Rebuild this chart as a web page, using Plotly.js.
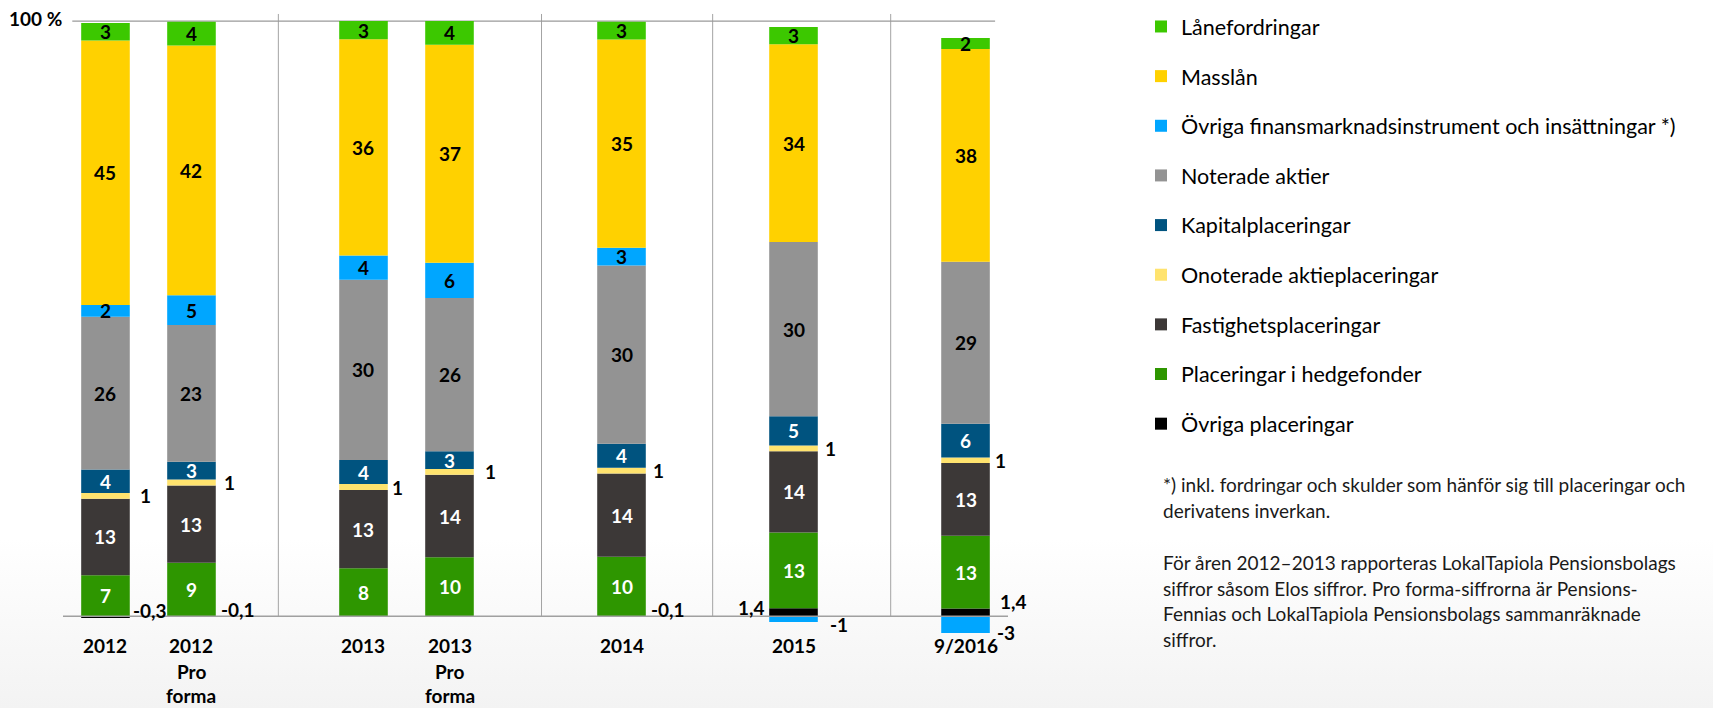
<!DOCTYPE html>
<html><head><meta charset="utf-8">
<script src="https://cdn.plot.ly/plotly-3.0.1.min.js"></script>
<style>
html,body{margin:0;padding:0;width:1713px;height:708px;overflow:hidden;
background:linear-gradient(to bottom,#ffffff 0%,#ffffff 76%,#f3f3f3 100%);}
#chart{width:1713px;height:708px;}
</style></head><body><div id="chart"></div>
<script>
// ---------- data (values as labelled in the chart, %) ----------
const categories = ['2012', '2012 Pro forma', '2013', '2013 Pro forma', '2014', '2015', '9/2016'];
const ovrigaPlaceringar        = [-0.3, -0.1, 0, 0, -0.1, 1.4, 1.4];
const hedgefonder              = [7, 9, 8, 10, 10, 13, 13];
const fastighetsplaceringar    = [13, 13, 13, 14, 14, 14, 13];
const onoteradeAktieplac       = [1, 1, 1, 1, 1, 1, 1];
const kapitalplaceringar       = [4, 3, 4, 3, 4, 5, 6];
const noteradeAktier           = [26, 23, 30, 26, 30, 30, 29];
const ovrigaFinansinstrument   = [2, 5, 4, 6, 3, -1, -3];
const masslan                  = [45, 42, 36, 37, 35, 34, 38];
const lanefordringar           = [3, 4, 3, 4, 3, 3, 2];
const yTickLabel = '100 %';
const footnotes = [
  '*) inkl. fordringar och skulder som hänför sig till placeringar och',
  'derivatens inverkan.',
  'För åren 2012–2013 rapporteras LokalTapiola Pensionsbolags',
  'siffror såsom Elos siffror. Pro forma-siffrorna är Pensions-',
  'Fennias och LokalTapiola Pensionsbolags sammanräknade',
  'siffror.'
];

// ---------- layout constants ----------
const W = 1713, H = 708;
const M = {l: 63, r: 705, t: 11, b: 56};
const catPos = [0, 1, 3, 4, 6, 8, 10];
const barWidth = 0.565;
const sepPos = [2.01, 5.07, 7.06, 9.13];
const xRange = [-0.494, 10.494];
const yRange = [-6, 101.7];
const FONT = 'Lato, "Liberation Sans", Arial, sans-serif';
const plotW = W - M.l - M.r, plotH = H - M.t - M.b;
const xPaper = px => (px - M.l) / plotW;
const yPaper = py => (H - M.b - py) / plotH;

// series, bottom of stack first; rank = order in legend (top first)
const series = [
  {name: 'Övriga placeringar', values: ovrigaPlaceringar, color: '#000000', txt: '#000', mode: 'black', rank: 9},
  {name: 'Placeringar i hedgefonder', values: hedgefonder, color: '#2E9600', txt: '#ffffff', mode: 'in', rank: 8},
  {name: 'Fastighetsplaceringar', values: fastighetsplaceringar, color: '#3C3837', txt: '#ffffff', mode: 'in', rank: 7},
  {name: 'Onoterade aktieplaceringar', values: onoteradeAktieplac, color: '#FFE36E', txt: '#000', mode: 'side', rank: 6},
  {name: 'Kapitalplaceringar', values: kapitalplaceringar, color: '#00537F', txt: '#ffffff', mode: 'in', rank: 5},
  {name: 'Noterade aktier', values: noteradeAktier, color: '#939393', txt: '#000', mode: 'in', rank: 4},
  {name: 'Övriga finansmarknadsinstrument och insättningar *)', values: ovrigaFinansinstrument, color: '#00A6FF', txt: '#000', mode: 'in', rank: 3},
  {name: 'Masslån', values: masslan, color: '#FFD100', txt: '#000', mode: 'in', rank: 2},
  {name: 'Lånefordringar', values: lanefordringar, color: '#3CC800', txt: '#000', mode: 'in', rank: 1}
];

// label placement styles for the labels drawn beside the bars
const sideDx = [10, 8, 4, 11, 7, 7, 5];
const blackLabelStyle = [
  {side: 'right', dx: 2, dy: 6.5}, {side: 'right', dx: 4, dy: 7}, null, null,
  {side: 'right', dx: 4, dy: 7}, {side: 'left', dx: 3, dy: 4.5}, {side: 'right', dx: 9, dy: 10.5}
];
const negLabelStyle = [null, null, null, null, null, {dx: 12, dy: -5}, {dx: 7, dy: -7.6}];

// 100 % stacked: each column normalised by the sum of absolute values
const absTotal = categories.map((_, i) => series.reduce((s, t) => s + Math.abs(t.values[i]), 0));
const shares = series.map(s => s.values.map((v, i) => v / absTotal[i] * 100));

const fmt = v => String(v).replace('.', ',');

const traces = series.map((s, k) => ({
  type: 'bar', name: s.name, x: catPos, y: shares[k], width: barWidth,
  marker: {color: s.color, line: {width: 0}},
  legendgroup: 'g' + k, legendrank: s.rank, cliponaxis: false, hoverinfo: 'skip'
}));

const annotations = [];
const posBase = categories.map(() => 0), negBase = categories.map(() => 0);
const labFont = c => ({family: FONT, size: 19, color: c, weight: 700});
series.forEach((s, k) => {
  shares[k].forEach((h, i) => {
    let center;
    if (h >= 0) { center = posBase[i] + h / 2; posBase[i] += h; }
    else { center = negBase[i] + h / 2; negBase[i] += h; }
    const v = s.values[i];
    if (v === 0) return;
    const base = {text: '<b>' + fmt(v) + '</b>', showarrow: false, xref: 'x', yref: 'y', y: center, yanchor: 'middle', borderpad: 0};
    if (s.mode === 'black') {
      const st = blackLabelStyle[i];
      if (!st) return;
      if (st.side === 'right') annotations.push(Object.assign(base, {x: catPos[i] + barWidth / 2, xanchor: 'left', xshift: st.dx, yshift: st.dy, font: labFont('#000')}));
      else annotations.push(Object.assign(base, {x: catPos[i] - barWidth / 2, xanchor: 'right', xshift: -st.dx, yshift: st.dy, font: labFont('#000')}));
    } else if (s.mode === 'side') {
      annotations.push(Object.assign(base, {x: catPos[i] + barWidth / 2, xanchor: 'left', xshift: sideDx[i] - 1, font: labFont('#000')}));
    } else if (v < 0) {
      const st = negLabelStyle[i] || {dx: 6, dy: -4};
      annotations.push(Object.assign(base, {x: catPos[i] + barWidth / 2, xanchor: 'left', xshift: st.dx - 1, yshift: st.dy, font: labFont('#000')}));
    } else {
      annotations.push(Object.assign(base, {x: catPos[i], xanchor: 'center', font: labFont(s.txt)}));
    }
  });
});

// category labels (one annotation per line)
const catLineY = [645, 671, 695.5];
categories.forEach((c, i) => {
  c.split(' ').forEach((line, j) => {
    annotations.push({text: '<b>' + line + '</b>', showarrow: false, xref: 'x', x: catPos[i], xanchor: 'center',
      yref: 'paper', y: yPaper(catLineY[j]), yanchor: 'middle', borderpad: 0, font: labFont('#000')});
  });
});
// y label
annotations.push({text: '<b>' + yTickLabel + '</b>', showarrow: false, xref: 'paper', x: 0, xanchor: 'right', xshift: 0,
  yref: 'y', y: 100, yanchor: 'middle', yshift: 3, borderpad: 0, font: labFont('#000')});
// footnotes
const footY = [484, 510, 562, 588, 613.5, 639];
footnotes.forEach((t, j) => {
  annotations.push({text: t, showarrow: false, xref: 'paper', x: xPaper(1162), xanchor: 'left',
    yref: 'paper', y: yPaper(footY[j]), yanchor: 'middle', borderpad: 0,
    font: {family: FONT, size: 19, color: '#1a1a1a'}});
});

const shapes = [];
sepPos.forEach(p => shapes.push({type: 'line', xref: 'x', yref: 'y', x0: p, x1: p, y0: 0, y1: 101.2,
  line: {color: '#a3a3a3', width: 1}, layer: 'below'}));
shapes.push({type: 'line', xref: 'x', yref: 'y', x0: -0.386, x1: 10.344, y0: 100, y1: 100,
  line: {color: '#9a9a9a', width: 1.2}, layer: 'below'});
shapes.push({type: 'line', xref: 'x', yref: 'y', x0: xRange[0], x1: xRange[1], y0: 0, y1: 0,
  line: {color: '#a0a0a0', width: 1.5}, layer: 'above'});

const layout = {
  width: W, height: H, margin: M,
  paper_bgcolor: 'rgba(0,0,0,0)', plot_bgcolor: 'rgba(0,0,0,0)',
  font: {family: FONT, size: 19, color: '#000'},
  barmode: 'relative',
  xaxis: {range: xRange, visible: false, fixedrange: true},
  yaxis: {range: yRange, visible: false, fixedrange: true},
  showlegend: true,
  legend: {xref: 'container', yref: 'container', x: 1141 / W, xanchor: 'left', y: 1 - 6 / H, yanchor: 'top',
    traceorder: 'grouped', tracegroupgap: 18.7, maxheight: 700, bgcolor: 'rgba(0,0,0,0)', borderwidth: 0,
    font: {family: FONT, size: 21.5, color: '#000'}},
  annotations: annotations, shapes: shapes
};

Plotly.newPlot('chart', traces, layout, {displayModeBar: false, staticPlot: true});
</script></body></html>
